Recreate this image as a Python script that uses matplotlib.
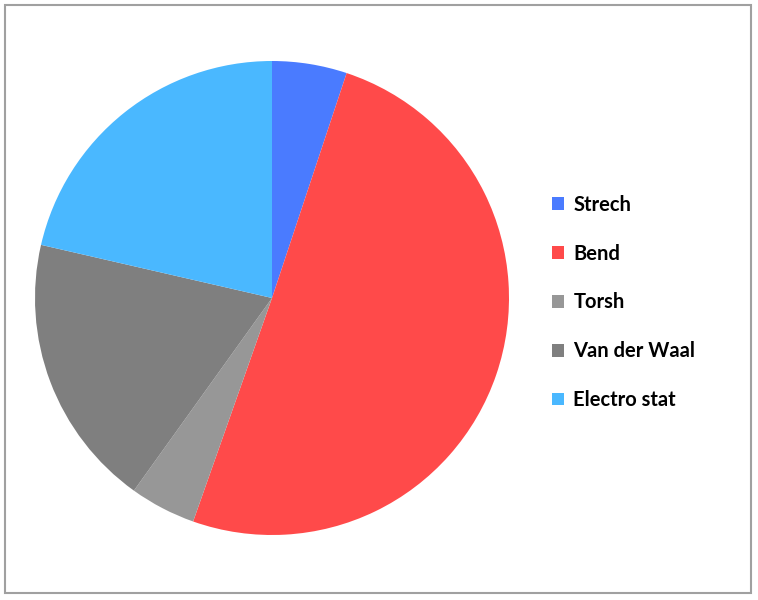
import matplotlib
matplotlib.use('Agg')

import matplotlib.pyplot as plt
from matplotlib.patches import Rectangle

# Energy contributions (share of total, %)
labels = ['Strech', 'Bend', 'Torsh', 'Van der Waal', 'Electro stat']
values = [5.1, 50.3, 4.5, 18.7, 21.4]
colors = ['#4A7BFF', '#FF4A4A', '#979797', '#7F7F7F', '#4AB8FF']

fig = plt.figure(figsize=(7.58, 6.0), dpi=100)

# outer grey frame round the whole chart
fig.patches.append(Rectangle((5 / 758, 7 / 600), 746 / 758, 588 / 600,
                             transform=fig.transFigure, fill=False,
                             edgecolor='#A0A0A0', linewidth=1.5))

# pie centre at (272, 298) px, radius 237 px
ax = fig.add_axes([35 / 758, 65 / 600, 474 / 758, 474 / 600])
wedges, _ = ax.pie(values, colors=colors, startangle=90, counterclock=False,
                   radius=1.0, wedgeprops=dict(linewidth=0))
ax.set_xlim(-1, 1)
ax.set_ylim(-1, 1)
ax.set_aspect('equal')

fig.legend(wedges, labels, loc='center left', bbox_to_anchor=(534 / 758, 297.5 / 600),
           frameon=False, handlelength=0.6, handleheight=0.6, handletextpad=0.45,
           labelspacing=1.43, prop=dict(family='Lato', weight='bold', size=14.5))

plt.savefig('out.png', dpi=100)
plt.close(fig)
